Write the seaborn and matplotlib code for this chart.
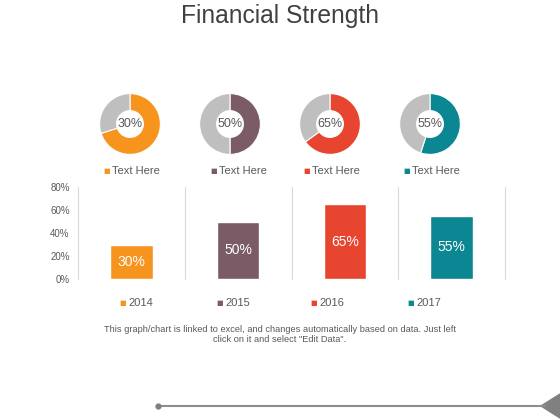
import pandas as pd
import seaborn as sns
import matplotlib.pyplot as plt
from matplotlib.patches import Polygon

# Data
years = ["2014", "2015", "2016", "2017"]
bar_values = [30, 50, 65, 55]
donut_labels = ["30%", "50%", "65%", "55%"]
donut_share = [70, 50, 65, 55]
legend_names = ["Text Here", "Text Here", "Text Here", "Text Here"]
colors = ["#F7941E", "#7B5B66", "#E84530", "#0B8793"]
rest_color = "#BFBFBF"
text_grey = "#595959"

sns.set_theme(style="white")
plt.rcParams["font.family"] = ["Liberation Sans", "DejaVu Sans"]

W, H = 560, 420
fig = plt.figure(figsize=(W / 100, H / 100), dpi=100)


def fx(px):
    return px / W


def fy(py):
    return 1 - py / H


fig.text(0.5, fy(16), "Financial Strength", ha="center", va="center",
         fontsize=17.7, color="#404040")

# Donuts
centers = [130, 230, 330, 430]
r = 31
for cx, share, lab, col in zip(centers, donut_share, donut_labels, colors):
    ax = fig.add_axes([fx(cx - r), fy(124 + r), 2 * r / W, 2 * r / H])
    ax.pie([share, 100 - share], colors=[col, rest_color], startangle=90,
           counterclock=False, radius=1,
           wedgeprops=dict(width=0.56, edgecolor="white", linewidth=0.8))
    ax.set_xlim(-1.02, 1.02)
    ax.set_ylim(-1.02, 1.02)
    ax.set_aspect("equal")
    ax.text(0, 0, lab, ha="center", va="center", fontsize=9, color=text_grey)

# Donut legend
leg1_sq = [107, 214, 307, 407]
for sx, name, col in zip(leg1_sq, legend_names, colors):
    fig.text(fx(sx), fy(171), "\u25A0", ha="center", va="center",
             fontsize=5, color=col, family="DejaVu Sans")
    fig.text(fx(sx + 5), fy(171), name, ha="left", va="center",
             fontsize=8, color=text_grey)

# Bar chart
df = pd.DataFrame({"year": years, "value": bar_values})
bx = fig.add_axes([fx(78), fy(279), (505 - 78) / W, (279 - 187) / H])
sns.barplot(data=df, x="year", y="value", hue="year", palette=colors,
            width=0.4, legend=False, ax=bx, saturation=1)
bx.set_ylim(0, 80)
bx.set_xlim(-0.5, 3.5)
bx.set_yticks([0, 20, 40, 60, 80])
bx.set_yticklabels([f"{v}%" for v in [0, 20, 40, 60, 80]],
                   fontsize=7, color=text_grey)
bx.set_xticks([])
for xv in [-0.5, 0.5, 1.5, 2.5, 3.5]:
    bx.axvline(xv, color="#D9D9D9", linewidth=0.8, clip_on=False)
for s in bx.spines.values():
    s.set_visible(False)
bx.tick_params(axis="y", length=0, pad=6)
bx.set_xlabel("")
bx.set_ylabel("")
for i, v in enumerate(bar_values):
    bx.text(i, v / 2, f"{v}%", ha="center", va="center",
            fontsize=10, color="white")

# Year legend
leg2_sq = [123, 220, 314, 411]
for sx, name, col in zip(leg2_sq, years, colors):
    fig.text(fx(sx), fy(303), "\u25A0", ha="center", va="center",
             fontsize=5, color=col, family="DejaVu Sans")
    fig.text(fx(sx + 5), fy(303), name, ha="left", va="center",
             fontsize=8, color=text_grey)

fig.text(0.5, fy(329), "This graph/chart is linked to excel, and changes "
         "automatically based on data. Just left", ha="center", va="center",
         fontsize=6.7, color=text_grey)
fig.text(0.5, fy(340), 'click on it and select "Edit Data".', ha="center",
         va="center", fontsize=6.7, color=text_grey)

# Decorative line at bottom
ov = fig.add_axes([0, 0, 1, 1], zorder=-1)
ov.set_xlim(0, W)
ov.set_ylim(H, 0)
ov.axis("off")
ov.plot([158, 545], [406, 406], color="#8C8C8C", linewidth=1.5)
ov.plot([158], [406], marker="o", markersize=3.5, color="#7F7F7F")
ov.add_patch(Polygon([[541, 406], [560, 394], [560, 418]], closed=True,
                     color="#808080"))

fig.savefig("out.png", dpi=100)
